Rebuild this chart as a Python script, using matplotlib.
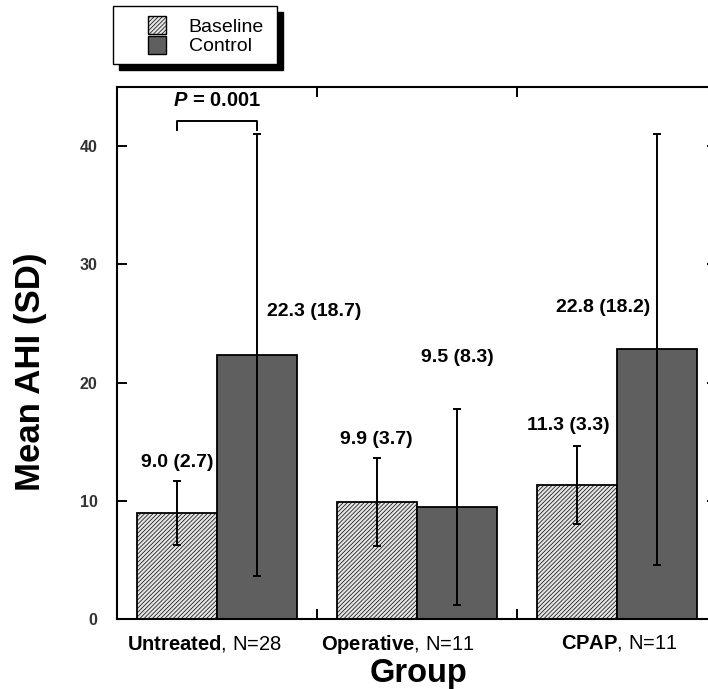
import matplotlib
matplotlib.use('Agg')
from matplotlib import pyplot as plt
from matplotlib.patches import Patch, Rectangle
import numpy as np

plt.rcParams['font.family'] = ['Liberation Sans', 'DejaVu Sans']
plt.rcParams['mathtext.fontset'] = 'custom'
plt.rcParams['mathtext.rm'] = 'Liberation Sans'
plt.rcParams['mathtext.bf'] = 'Liberation Sans:bold'
plt.rcParams['mathtext.it'] = 'Liberation Sans:italic:bold'
plt.rcParams['hatch.color'] = '#acacac'
plt.rcParams['hatch.linewidth'] = 0.5

# data
groups = ['Untreated', 'Operative', 'CPAP']
group_n = [28, 11, 11]
baseline_mean = [9.0, 9.9, 11.3]
baseline_sd = [2.7, 3.7, 3.3]
control_mean = [22.3, 9.5, 22.8]
control_sd = [18.7, 8.3, 18.2]
p_text = '0.001'

# where the value labels sit (data coords), hand placed like the original
base_label_xy = [(-0.20, 13.2), (0.795, 15.2), (1.755, 16.35)]
ctrl_label_xy = [(0.485, 26.0), (1.20, 22.1), (1.93, 26.35)]
group_label_x = [-0.0625, 0.9025, 2.01]

fig = plt.figure(figsize=(7.08, 6.89), dpi=100)
ax = fig.add_axes([117 / 708, 70 / 689, 600 / 708, 532 / 689])

x = np.arange(len(groups))
w = 0.4
hatch = '////////'
ax.bar(x - w / 2, baseline_mean, w, color='#e4e4e4', hatch=hatch,
       edgecolor='black', linewidth=1.3, zorder=2, label='Baseline')
ax.bar(x + w / 2, control_mean, w, color='#5f5f5f',
       edgecolor='black', linewidth=1.3, zorder=2, label='Control')
ax.errorbar(x - w / 2, baseline_mean, yerr=baseline_sd, fmt='none',
            ecolor='black', elinewidth=1.4, capsize=3, capthick=1.4, zorder=3)
ax.errorbar(x + w / 2, control_mean, yerr=control_sd, fmt='none',
            ecolor='black', elinewidth=1.4, capsize=3, capthick=1.4, zorder=3)

for i in range(len(groups)):
    ax.text(*base_label_xy[i], f'{baseline_mean[i]:.1f} ({baseline_sd[i]:.1f})',
            ha='center', va='center', fontsize=14, fontweight='bold')
    ax.text(*ctrl_label_xy[i], f'{control_mean[i]:.1f} ({control_sd[i]:.1f})',
            ha='center', va='center', fontsize=14, fontweight='bold')

# significance bracket over Untreated
bx = [x[0] - w / 2, x[0] - w / 2, x[0] + w / 2, x[0] + w / 2]
ax.plot(bx, [41.4, 42.1, 42.1, 41.4], color='black', lw=1.4, zorder=3)
ax.text(x[0], 43.9, r'$\it{P}$ = ' + p_text, ha='center', va='center',
        fontsize=14.5, fontweight='bold')

ax.set_xlim(-0.5, len(groups) - 0.5)
ax.set_ylim(0, 45)
ax.set_yticks([0, 10, 20, 30, 40])
ax.set_xticks(group_label_x)
ax.set_xticklabels([r'$\bf{' + g + '}$' + f', N={n}' for g, n in zip(groups, group_n)],
                   fontsize=14.5)
ax.set_xticks(np.arange(-0.5, len(groups), 1.0), minor=True)
ax.tick_params(axis='x', which='major', length=0, pad=10)
ax.tick_params(axis='x', which='minor', direction='in', length=7, width=1.4,
               top=True, bottom=True)
ax.tick_params(axis='y', direction='in', length=7, width=1.4, left=True,
               right=True, labelsize=11.5, pad=14, labelcolor='#333333')
for lbl in ax.get_yticklabels():
    lbl.set_fontweight('bold')
for s in ax.spines.values():
    s.set_linewidth(1.5)

ax.set_xlabel('Group', fontsize=23.5, fontweight='bold')
ax.xaxis.set_label_coords(0.503, -0.074)
ax.set_ylabel('Mean AHI (SD)', fontsize=25, fontweight='bold')
ax.yaxis.set_label_coords(-0.117, 0.465)

# legend box with hard black shadow
fig.patches.append(Rectangle((119 / 708, 1 - 70 / 689), 164 / 708, 58 / 689,
                             transform=fig.transFigure, facecolor='black',
                             edgecolor='black', zorder=0))
fig.patches.append(Rectangle((113 / 708, 1 - 64 / 689), 164 / 708, 58 / 689,
                             transform=fig.transFigure, facecolor='white',
                             edgecolor='black', linewidth=1.0, zorder=1))
handles = [Patch(facecolor='#e4e4e4', hatch=hatch, edgecolor='black', linewidth=1.0),
           Patch(facecolor='#5f5f5f', edgecolor='black', linewidth=1.0)]
fig.legend(handles, ['Baseline', 'Control'], loc='upper left',
           bbox_to_anchor=(148 / 708, 1 - 16 / 689), frameon=False,
           borderpad=0, borderaxespad=0, handlelength=0.95, handleheight=1.05,
           handletextpad=1.15, labelspacing=0.0, fontsize=14)

fig.savefig('out.png', dpi=100)
